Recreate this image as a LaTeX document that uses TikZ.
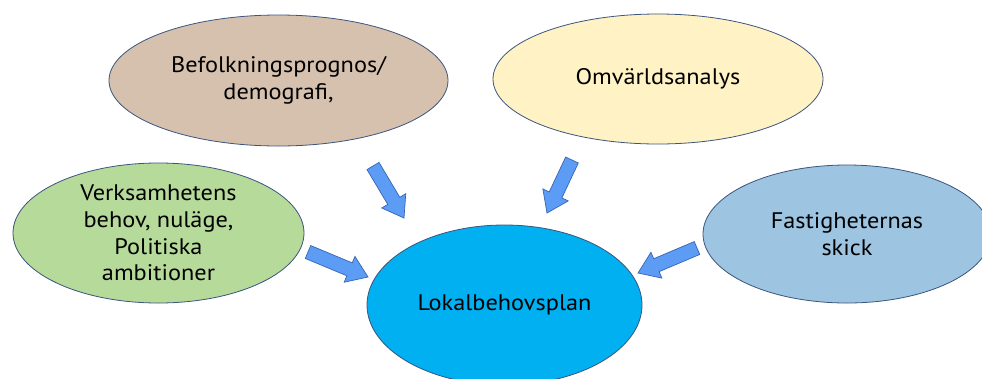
\documentclass[tikz,border=0pt]{standalone}
\usepackage{fontspec}
\setmainfont{PT Sans}[FakeStretch=1.08]
\usetikzlibrary{shapes.geometric,calc}
\definecolor{cbrown}{RGB}{214,193,174}
\definecolor{cyellow}{RGB}{255,242,197}
\definecolor{cgreen}{RGB}{181,218,154}
\definecolor{clblue}{RGB}{157,196,224}
\definecolor{ccenter}{RGB}{0,176,240}
\definecolor{coutline}{RGB}{60,85,125}
\definecolor{carrow}{RGB}{92,156,245}
\definecolor{carrowline}{RGB}{55,100,180}
\tikzset{
  bubble/.style={ellipse, draw=coutline, line width=0.8bp, inner sep=0pt, align=center,
    font=\fontsize{22.5bp}{26.7bp}\selectfont, text=black},
  blockarr/.style={fill=carrow, draw=carrowline, line width=0.7bp, line join=miter}
}
\newcommand\blockarrow[3]{%
  \coordinate (#1h) at ($(#3)!20bp!(#2)$);
  \draw[blockarr] ($(#2)!7bp!90:(#3)$) -- ($(#1h)!7bp!90:(#3)$) -- ($(#1h)!14bp!90:(#3)$) -- (#3)
     -- ($(#1h)!14bp!-90:(#3)$) -- ($(#1h)!7bp!-90:(#3)$) -- ($(#2)!7bp!-90:(#3)$) -- cycle;}
\begin{document}
\begin{tikzpicture}[x=1bp,y=-1bp]
\useasboundingbox (0,0) rectangle (982,378);
\clip (0,0) rectangle (982,378);
\fill[white] (0,0) rectangle (982,378);
\node[bubble, fill=cbrown, minimum width=339bp, minimum height=131bp] (befolk) at (278.5,80.5) {Befolkningsprognos/\\demografi,};
\node[bubble, fill=cyellow, minimum width=330bp, minimum height=130bp] (omv) at (658,79) {Omvärldsanalys};
\node[bubble, fill=cgreen, minimum width=291bp, minimum height=140bp] (verk) at (158.5,233) {Verksamhetens\\behov, nuläge,\\Politiska\\ambitioner};
\node[bubble, fill=clblue, minimum width=288bp, minimum height=138bp] (fast) at (847,234) {Fastigheternas\\skick};
\node[bubble, fill=ccenter, minimum width=275bp, minimum height=160bp] (lok) at (504.5,305) {Lokalbehovsplan};
\coordinate (a1s) at (373,166); \coordinate (a1e) at (404,218);
\coordinate (a2s) at (572,160); \coordinate (a2e) at (547,213);
\coordinate (a3s) at (308,252); \coordinate (a3e) at (368,277);
\coordinate (a4s) at (697,248); \coordinate (a4e) at (638,273);
\blockarrow{a1}{a1s}{a1e}
\blockarrow{a2}{a2s}{a2e}
\blockarrow{a3}{a3s}{a3e}
\blockarrow{a4}{a4s}{a4e}
\end{tikzpicture}
\end{document}
